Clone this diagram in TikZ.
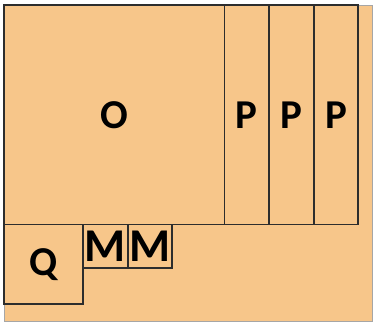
\documentclass[tikz,border=0pt]{standalone}
\usepackage{fontspec}
\setmainfont{Carlito}
\usepackage{tikz}
\usetikzlibrary{positioning}

\definecolor{sheet}{RGB}{247,198,138}
\definecolor{edge}{RGB}{45,45,45}

\tikzset{
    piece/.style={draw=edge, line width=1.8pt, fill=sheet, inner sep=0pt, outer sep=0pt,
        font=\fontsize{41}{43}\selectfont\bfseries},
    small/.style={piece, font=\fontsize{47}{49}\selectfont\bfseries}
}

\begin{document}
\begin{tikzpicture}[x=1pt, y=-1pt]
    \useasboundingbox (0, 0) rectangle (375, 322);
    \fill[sheet, draw=gray!70, line width=0.8pt] (4, 5) rectangle (372, 321);

    \node[piece, minimum width=220.5pt, minimum height=219.5pt] (o) at (114.25, 114.75) {O};
    \node[piece, minimum width=44.6pt, minimum height=219.5pt] (p1) at (246.8, 114.75) {P};
    \node[piece, minimum width=44.6pt, minimum height=219.5pt] (p2) at (291.4, 114.75) {P};
    \node[piece, minimum width=44.6pt, minimum height=219.5pt] (p3) at (336.0, 114.75) {P};

    \node[piece, minimum width=79.3pt, minimum height=79.5pt] (q) at (43.65, 264.25) {Q};
    \node[small, minimum width=44.4pt, minimum height=43.8pt] (m1) at (105.5, 246.4) {M};
    \node[small, minimum width=44.6pt, minimum height=43.8pt] (m2) at (150.0, 246.4) {M};
\end{tikzpicture}
\end{document}
